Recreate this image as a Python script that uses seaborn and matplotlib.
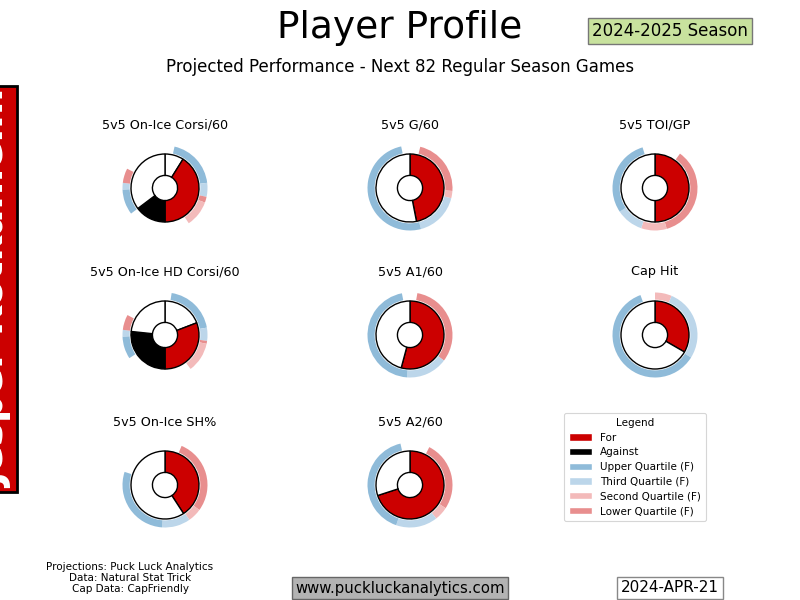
import matplotlib
matplotlib.use("Agg")
import matplotlib.pyplot as plt
import matplotlib.patches as mpatches
import seaborn as sns

sns.set_theme(style="white")
plt.rcParams['font.family'] = ['DejaVu Sans']
plt.rcParams['text.color'] = 'black'

# ---------------- data ----------------
player_name = "Jesper Kotkaniemi"
titles = ["5v5 On-Ice Corsi/60", "5v5 G/60", "5v5 TOI/GP",
          "5v5 On-Ice HD Corsi/60", "5v5 A1/60", "Cap Hit",
          "5v5 On-Ice SH%", "5v5 A2/60"]

# inner donut: sizes (degrees, clockwise from top) and kind
inner_sizes = [
    [32, 148, 53, 127],
    [169, 191],
    [180, 180],
    [69, 111, 96, 84],
    [195, 165],
    [120, 240],
    [147, 213],
    [252, 108],
]
inner_kinds = [
    ["R", "F", "A", "R"],
    ["F", "R"],
    ["F", "R"],
    ["R", "F", "A", "R"],
    ["F", "R"],
    ["F", "R"],
    ["F", "R"],
    ["F", "R"],
]
# outer quartile ring: sizes (degrees) and quartile keys ('-' = gap)
ring_sizes = [
    [13, 70, 19, 8, 36, 87, 35, 9, 20, 63],
    [14, 80, 10, 61, 183, 12],
    [36, 128, 35, 37, 107, 17],
    [9, 71, 18, 4, 41, 94, 31, 9, 21, 62],
    [10, 117, 57, 165, 11],
    [23, 99, 218, 20],
    [23, 103, 19, 39, 104, 72],
    [27, 96, 19, 57, 148, 13],
]
ring_keys = [
    ["-", "U", "T", "L", "S", "-", "U", "T", "L", "-"],
    ["-", "L", "S", "T", "U", "-"],
    ["-", "L", "S", "T", "U", "-"],
    ["-", "U", "T", "L", "S", "-", "U", "T", "L", "-"],
    ["-", "L", "T", "U", "-"],
    ["S", "T", "U", "-"],
    ["-", "L", "S", "T", "U", "-"],
    ["-", "L", "S", "T", "U", "-"],
]

legend_labels = ["For", "Against", "Upper Quartile (F)", "Third Quartile (F)",
                 "Second Quartile (F)", "Lower Quartile (F)"]

# ---------------- styles ----------------
colors = {
    "F": "#cc0000", "A": "#000000", "R": "#ffffff",
    "U": "#8fbbd9", "T": "#bcd6ea", "S": "#f3baba", "L": "#e88e8e",
    "-": "none",
}

fig = plt.figure(figsize=(8, 6), dpi=100)
W, H = 800, 600
centers_x = [165, 410, 655]
centers_y = [188, 335, 485]
unit = 34.0          # pixels per pie radius unit
box = 170            # axes size in px
half_units = box / 2 / unit

for i, title in enumerate(titles):
    r, c = divmod(i, 3)
    cx, cy = centers_x[c], centers_y[r]
    ax = fig.add_axes([(cx - box / 2) / W, 1 - (cy + box / 2) / H, box / W, box / H])
    # outer ring
    ax.pie(ring_sizes[i], colors=[colors[k] for k in ring_keys[i]], radius=1.25,
           startangle=90, counterclock=False,
           wedgeprops=dict(width=0.21, edgecolor="none", linewidth=0))
    # inner donut
    ax.pie(inner_sizes[i], colors=[colors[k] for k in inner_kinds[i]], radius=1.0,
           startangle=90, counterclock=False,
           wedgeprops=dict(width=0.63, edgecolor="black", linewidth=1.0))
    ax.set_xlim(-half_units, half_units)
    ax.set_ylim(-half_units, half_units)
    ax.set_aspect("equal")
    ax.axis("off")
    ax.text(0, 63 / unit, title, ha="center", va="center", fontsize=9.2, color="black")

# legend
handles = [
    mpatches.Patch(facecolor=colors["F"], label=legend_labels[0]),
    mpatches.Patch(facecolor=colors["A"], label=legend_labels[1]),
    mpatches.Patch(facecolor=colors["U"], label=legend_labels[2]),
    mpatches.Patch(facecolor=colors["T"], label=legend_labels[3]),
    mpatches.Patch(facecolor=colors["S"], label=legend_labels[4]),
    mpatches.Patch(facecolor=colors["L"], label=legend_labels[5]),
]
leg = fig.legend(handles=handles, loc="center", bbox_to_anchor=(635 / W, 1 - 467 / H),
                 fontsize=7.5, title="Legend", title_fontsize=7.5, frameon=True,
                 handlelength=2.2, handletextpad=0.8, borderpad=0.5, labelspacing=0.45)
leg.get_frame().set_edgecolor("#cccccc")
leg.get_frame().set_linewidth(0.8)

# titles
fig.text(0.5, 1 - 28 / H, "Player Profile", ha="center", va="center", fontsize=27)
fig.text(0.5, 1 - 67 / H, "Projected Performance - Next 82 Regular Season Games",
         ha="center", va="center", fontsize=12)
fig.text(670 / W, 1 - 31 / H, "2024-2025 Season", ha="center", va="center", fontsize=12,
         bbox=dict(boxstyle="square,pad=0.25", facecolor="#c8e29e", edgecolor="#777777", linewidth=1))

# player name (vertical)
fig.text(-0.007, 1 - 289 / H, player_name, rotation=90, ha="center", va="center",
         fontsize=28, fontweight="bold", color="white",
         bbox=dict(boxstyle="square,pad=0.1", facecolor="#cc0000", edgecolor="black", linewidth=2))

# footer
fig.text(130 / W, 1 - 578 / H, "Projections: Puck Luck Analytics\nData: Natural Stat Trick\nCap Data: CapFriendly",
         ha="center", va="center", fontsize=7.5, multialignment="center", linespacing=1.15)
fig.text(400 / W, 1 - 588 / H, "www.puckluckanalytics.com", ha="center", va="center", fontsize=10.7,
         bbox=dict(boxstyle="square,pad=0.25", facecolor="#b3b3b3", edgecolor="#666666", linewidth=1))
fig.text(670 / W, 1 - 588 / H, "2024-APR-21", ha="center", va="center", fontsize=11,
         bbox=dict(boxstyle="square,pad=0.25", facecolor="white", edgecolor="#888888", linewidth=1))

fig.savefig("out.png", dpi=100)
